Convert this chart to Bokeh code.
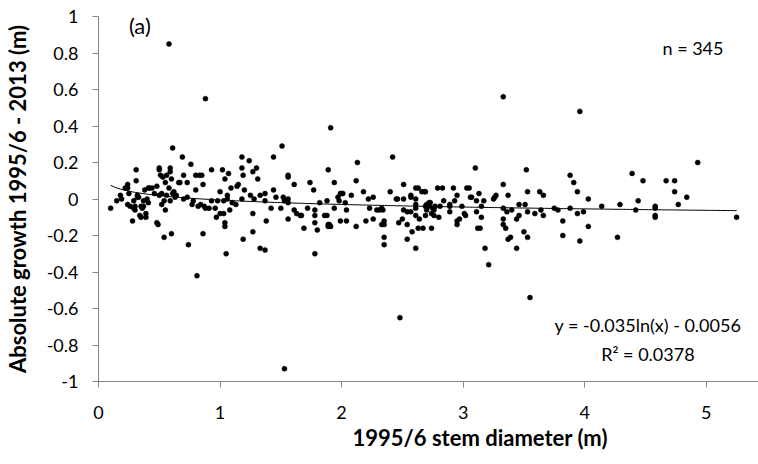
import numpy as np
from bokeh.plotting import figure
from bokeh.models import FixedTicker, CustomJSTickFormatter, Label, Range1d, Title
from bokeh.embed import file_html
from bokeh.resources import INLINE

# 1995/6 stem diameter (m)
x_diam = [
    0.10, 0.15, 0.18, 0.19, 0.22, 0.24, 0.24, 0.25, 0.24, 0.26, 0.28, 0.29, 0.29, 0.30, 0.30, 0.31,
    0.31, 0.32, 0.32, 0.33, 0.34, 0.35, 0.35, 0.36, 0.37, 0.37, 0.38, 0.39, 0.39, 0.40, 0.41, 0.41,
    0.42, 0.44, 0.46, 0.48, 0.48, 0.49, 0.50, 0.50, 0.50, 0.51, 0.52, 0.52, 0.53, 0.54, 0.54, 0.55,
    0.55, 0.56, 0.56, 0.58, 0.59, 0.59, 0.59, 0.60, 0.60, 0.61, 0.61, 0.62, 0.63, 0.64, 0.66, 0.67,
    0.69, 0.70, 0.70, 0.73, 0.73, 0.74, 0.76, 0.77, 0.78, 0.80, 0.80, 0.81, 0.82, 0.83, 0.84, 0.85,
    0.86, 0.86, 0.87, 0.88, 0.91, 0.93, 0.93, 0.96, 0.97, 0.98, 1.00, 1.00, 1.02, 1.03, 1.03, 1.04,
    1.04, 1.04, 1.05, 1.06, 1.06, 1.07, 1.08, 1.09, 1.10, 1.13, 1.14, 1.15, 1.18, 1.18, 1.18, 1.19,
    1.19, 1.20, 1.24, 1.25, 1.27, 1.27, 1.27, 1.28, 1.30, 1.31, 1.33,
    1.33, 1.37, 1.37, 1.38, 1.37, 1.42, 1.44, 1.44, 1.46, 1.50, 1.51, 1.52, 1.53, 1.56, 1.56, 1.56,
    1.56, 1.56, 1.61, 1.61, 1.63, 1.66, 1.67, 1.69, 1.72, 1.74, 1.77, 1.78, 1.78, 1.78, 1.78, 1.80,
    1.82, 1.86, 1.88, 1.88, 1.89, 1.89, 1.89, 1.90, 1.91, 1.91, 1.94, 1.94, 1.97, 1.98, 1.99, 1.99,
    2.00, 2.01, 2.03, 2.04, 2.04, 2.08, 2.12, 2.12, 2.13, 2.18, 2.20, 2.22, 2.23, 2.26, 2.26, 2.29,
    2.31, 2.33, 2.33, 2.34, 2.35, 2.35, 2.35, 2.35, 2.40, 2.42, 2.45, 2.46, 2.47, 2.50, 2.51, 2.51,
    2.51, 2.54, 2.54, 2.54, 2.57, 2.57, 2.57, 2.58, 2.61, 2.61, 2.61, 2.61, 2.61, 2.61, 2.63, 2.63,
    2.64,
    2.66, 2.68, 2.67, 2.69, 2.69, 2.69, 2.70, 2.70, 2.72, 2.72, 2.73, 2.74, 2.74, 2.75, 2.76, 2.76,
    2.77, 2.79, 2.80, 2.81, 2.83, 2.84, 2.89, 2.89, 2.89, 2.92, 2.93, 2.95, 2.95, 2.95, 2.97, 2.99,
    3.01, 3.02, 3.03, 3.05, 3.06, 3.07, 3.10, 3.11, 3.11, 3.12, 3.13, 3.14, 3.15, 3.15, 3.17, 3.18,
    3.21, 3.25, 3.26, 3.27, 3.33, 3.33, 3.33, 3.33, 3.35, 3.36, 3.37, 3.37, 3.39, 3.40, 3.44, 3.44,
    3.46, 3.46, 3.50, 3.51, 3.52, 3.53, 3.53, 3.53, 3.55, 3.59, 3.63, 3.64, 3.66, 3.66, 3.75, 3.78,
    3.82, 3.82, 3.88, 3.88, 3.91, 3.94, 3.94, 3.96, 3.96,
    3.99, 4.03, 4.03, 4.14, 4.27, 4.29, 4.39, 4.42, 4.44, 4.48, 4.58, 4.58, 4.58, 4.58, 4.67, 4.74,
    4.74, 4.77, 4.84, 4.93, 5.25,
    0.58, 0.88, 3.33, 1.53, 2.48,
]

# Absolute growth 1995/6 - 2013 (m)
y_growth = [
    -0.05, -0.01, 0.02, 0.00, 0.06, 0.08, 0.06, 0.03, -0.03, -0.04, -0.12, -0.05, -0.01, -0.04, -0.06, 0.16,
    0.10, 0.02, 0.01, 0.01, -0.09, -0.04, -0.10, -0.05, -0.04, -0.01, 0.05, -0.08, -0.10, 0.00, 0.06, -0.02,
    0.06, 0.06, 0.03, 0.07, -0.13, -0.14, 0.16, 0.17, 0.02, 0.13, -0.03, 0.03, 0.12, -0.01, -0.21, -0.06,
    0.09, 0.13, 0.02, 0.06, 0.17, 0.15, -0.01, -0.19, 0.11, 0.28, 0.03, 0.04, 0.01, 0.02, 0.09, 0.09,
    0.23, 0.13, 0.00, 0.09, 0.01, -0.25, 0.19, -0.03, -0.01, 0.05, 0.13, -0.42, -0.04, 0.13, -0.03, 0.13,
    0.08, -0.19, -0.04, -0.05, -0.05, -0.01, 0.16, -0.05, -0.10, -0.01, 0.04, -0.08, 0.16, -0.08, -0.01, -0.15,
    -0.13, 0.11, -0.30, 0.00, 0.02, 0.14, -0.06, 0.06, -0.02, -0.03, 0.07, 0.08, 0.23, 0.17, 0.00, -0.22,
    0.13, 0.05, 0.21, 0.02, 0.15, -0.08, -0.18, 0.00, 0.17, 0.11, -0.27,
    0.02, 0.03, -0.01, -0.12, -0.28, -0.05, 0.23, 0.05, 0.01, -0.05, 0.29, 0.01, -0.01, 0.13, 0.12, 0.00,
    -0.02, -0.11, 0.08, -0.06, -0.08, -0.09, -0.09, -0.16, -0.05, 0.09, 0.05, -0.06, -0.09, -0.13, -0.30, -0.17,
    -0.02, -0.09, -0.09, -0.01, 0.16, -0.14, -0.15, -0.14, 0.39, -0.15, -0.05, 0.09, 0.01, -0.01, 0.03, -0.12,
    0.03, 0.03, -0.02, -0.06, -0.12, 0.02, 0.10, -0.15, 0.20, 0.04, -0.12, 0.00, -0.05, 0.01, -0.11, -0.06,
    -0.06, -0.14, -0.05, -0.06, -0.12, -0.14, -0.21, -0.25, 0.04, 0.23, 0.00, 0.00, -0.13, -0.11, 0.00, 0.08,
    -0.06, -0.14, -0.07, -0.22, 0.01, 0.02, -0.07, -0.18, 0.06, 0.00, -0.03, -0.05, -0.09, -0.27, 0.06, -0.16,
    -0.11,
    0.04, 0.04, -0.16, 0.04, -0.04, -0.09, -0.06, -0.03, -0.02, -0.04, -0.02, -0.16, -0.08, -0.05, -0.06, -0.09,
    -0.04, 0.06, -0.10, -0.04, 0.06, -0.01, -0.03, -0.04, -0.07, 0.06, -0.01, 0.02, -0.12, -0.14, -0.11, -0.04,
    -0.08, -0.09, 0.06, 0.06, 0.01, 0.01, 0.17, -0.01, -0.07, -0.16, 0.03, -0.16, -0.04, -0.10, -0.01, -0.27,
    -0.36, 0.00, 0.01, 0.02, 0.08, -0.05, -0.11, -0.14, -0.16, -0.07, 0.02, -0.22, -0.21, -0.06, -0.11, -0.27,
    -0.03, -0.09, -0.18, -0.03, 0.16, -0.07, 0.04, -0.21, -0.54, -0.08, 0.04, -0.06, 0.02, -0.09, -0.05, -0.06,
    -0.12, -0.20, 0.13, -0.05, 0.09, 0.04, -0.08, -0.23, 0.48,
    -0.07, 0.00, -0.15, -0.04, -0.21, -0.03, 0.14, -0.06, -0.01, 0.10, -0.04, -0.05, -0.09, -0.10, 0.10, 0.10,
    0.04, -0.03, 0.01, 0.20, -0.10,
    0.85, 0.55, 0.56, -0.93, -0.65,
]

# logarithmic trendline coefficients: y = a ln(x) + b
trend_a = -0.035
trend_b = -0.0056

x_ticks = [0, 1, 2, 3, 4, 5]
y_ticks = [-1, -0.8, -0.6, -0.4, -0.2, 0, 0.2, 0.4, 0.6, 0.8, 1]

FONT = "Lato"
AXIS_GRAY = "#868686"

p = figure(width=758, height=464, output_backend="svg", toolbar_location=None,
           x_range=Range1d(0, 5.43), y_range=Range1d(-1, 1),
           min_border_left=98, min_border_right=0, min_border_top=16, min_border_bottom=83)
p.outline_line_color = None
p.xgrid.visible = False
p.ygrid.visible = False
p.background_fill_color = "white"
p.border_fill_color = "white"

# trendline
tx = np.linspace(min(x_diam), max(x_diam), 200)
ty = trend_a * np.log(tx) + trend_b
p.line(tx, ty, line_color="black", line_width=1)

p.scatter(x_diam, y_growth, size=5, fill_color="black", line_color="black", line_width=0.5)

# axes
for ax in (p.xaxis[0], p.yaxis[0]):
    ax.axis_line_color = AXIS_GRAY
    ax.major_tick_line_color = AXIS_GRAY
    ax.minor_tick_line_color = None
    ax.major_tick_in = 0
    ax.major_tick_out = 6
    ax.major_label_text_font = FONT
    ax.major_label_text_font_size = "18px"
    ax.major_label_text_color = "black"

p.xaxis.ticker = FixedTicker(ticks=x_ticks)
p.xaxis.major_label_standoff = 18
p.yaxis.ticker = FixedTicker(ticks=y_ticks)
p.yaxis.formatter = CustomJSTickFormatter(code="return (Math.round(tick*10)/10).toString();")
p.yaxis.major_label_standoff = 14
p.yaxis.axis_label = "Absolute growth 1995/6 - 2013 (m)"
p.yaxis.axis_label_text_font = FONT
p.yaxis.axis_label_text_font_style = "bold"
p.yaxis.axis_label_text_font_size = "22px"
p.yaxis.axis_label_text_color = "black"
p.yaxis.axis_label_standoff = 13

p.add_layout(Title(text="1995/6 stem diameter (m)", align="left", offset=254,
                   text_font=FONT, text_font_style="bold", text_font_size="22px",
                   text_color="black", standoff=0), "below")

p.add_layout(Label(x=0.25, y=0.95, text="(a)", text_font=FONT, text_font_size="22px",
                   text_align="left", text_baseline="middle", text_color="black"))
p.add_layout(Label(x=4.64, y=0.83, text="n = 345", text_font=FONT, text_font_size="18px",
                   text_align="left", text_baseline="middle", text_color="black"))
p.add_layout(Label(x=4.52, y=-0.693, text="y = -0.035ln(x) - 0.0056", text_font=FONT,
                   text_font_size="18px", text_align="center", text_baseline="middle",
                   text_color="black"))
p.add_layout(Label(x=4.52, y=-0.847, text="R² = 0.0378", text_font=FONT,
                   text_font_size="18px", text_align="center", text_baseline="middle",
                   text_color="black"))

open("out.html", "w").write(file_html(p, INLINE))
